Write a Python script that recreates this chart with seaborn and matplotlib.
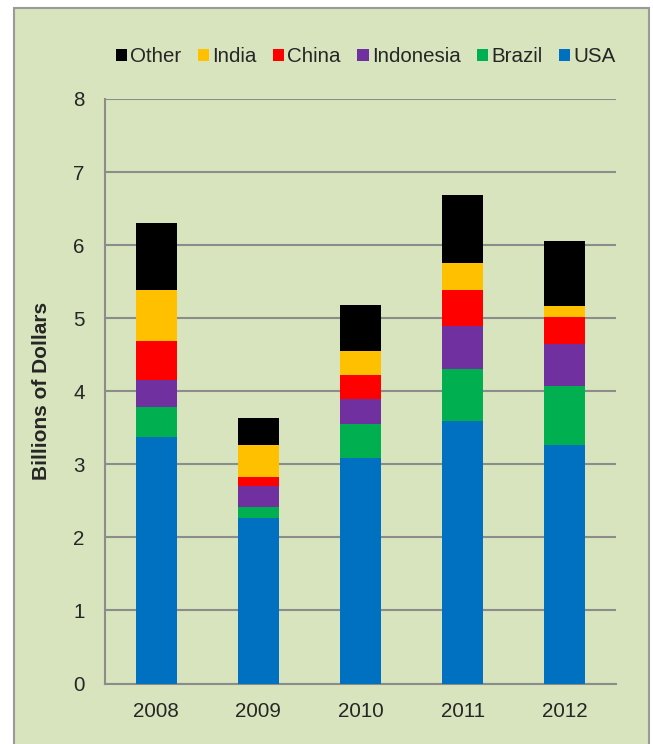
import numpy as np
import pandas as pd
import seaborn as sns
import matplotlib.pyplot as plt
from matplotlib.patches import Patch, Rectangle

# Valeurs (milliards de dollars)
years = ["2008", "2009", "2010", "2011", "2012"]
usa = [3.37, 2.26, 3.09, 3.59, 3.26]
brazil = [0.42, 0.16, 0.46, 0.72, 0.81]
indonesia = [0.37, 0.28, 0.34, 0.58, 0.57]
china = [0.53, 0.12, 0.33, 0.50, 0.37]
india = [0.69, 0.44, 0.33, 0.37, 0.15]
other = [0.92, 0.37, 0.63, 0.93, 0.90]

series = ["USA", "Brazil", "Indonesia", "China", "India", "Other"]
colors = {
    "USA": "#0070C0",
    "Brazil": "#00B050",
    "Indonesia": "#7030A0",
    "China": "#FF0000",
    "India": "#FFC000",
    "Other": "#000000",
}
BG = "#D8E4BD"
GRID = "#8C8C8C"

df = pd.DataFrame({
    "year": years,
    "USA": usa,
    "Brazil": brazil,
    "Indonesia": indonesia,
    "China": china,
    "India": india,
    "Other": other,
})

# Cumul pour empiler les barres
cum = df[series].cumsum(axis=1)
cum["year"] = df["year"]

sns.set_style("white")
plt.rcParams["font.family"] = ["Liberation Sans", "DejaVu Sans"]

fig = plt.figure(figsize=(6.53, 7.44), dpi=100)
fig.patch.set_facecolor("white")
fig.patches.append(Rectangle((14 / 653, -0.01), (649 - 14) / 653, 1 - 8 / 744 + 0.01,
                             transform=fig.transFigure, facecolor=BG,
                             edgecolor="#9A9A9A", linewidth=1.5, zorder=-10))

ax = fig.add_axes([105 / 653, (744 - 683.5) / 744, 511 / 653, 584.5 / 744])
ax.set_facecolor("none")

# Dessiner du total vers le bas pour obtenir l'empilement
for name in reversed(series):
    sns.barplot(data=cum, x="year", y=name, color=colors[name], saturation=1,
                width=0.4, errorbar=None, ax=ax, zorder=3, linewidth=0)

ax.set_ylim(0, 8)
ax.set_xlim(-0.5, len(years) - 0.5)
ax.set_yticks(range(0, 9))
ax.yaxis.grid(True, color=GRID, linewidth=1.5, zorder=0)
ax.set_axisbelow(True)

for s in ["top", "right"]:
    ax.spines[s].set_visible(False)
for s in ["left", "bottom"]:
    ax.spines[s].set_color(GRID)
    ax.spines[s].set_linewidth(1.5)

ax.tick_params(axis="y", length=4.5, width=1.5, color=GRID, pad=10, labelsize=14.8)
ax.tick_params(axis="x", which="major", length=0, pad=13, labelsize=14.8)
ax.set_xticks(np.arange(-0.5, len(years)), minor=True)
ax.tick_params(axis="x", which="minor", length=4.5, width=1.5, color=GRID)

ax.set_xlabel("")
ax.set_ylabel("Billions of Dollars", fontsize=15, fontweight="bold")
ax.yaxis.set_label_coords((42 - 105) / 511, 0.5)
ax.yaxis.label.set_verticalalignment("center")

handles = [Patch(facecolor=colors[n], edgecolor="none", label=n) for n in reversed(series)]
fig.legend(handles=handles, loc="center", ncol=6, frameon=False,
           bbox_to_anchor=(365.7 / 653, 1 - 57 / 744), fontsize=14.8,
           handlelength=0.55, handleheight=0.55, handletextpad=0.15,
           columnspacing=0.8, borderaxespad=0)

fig.savefig("out.png", dpi=100, facecolor=fig.get_facecolor())
